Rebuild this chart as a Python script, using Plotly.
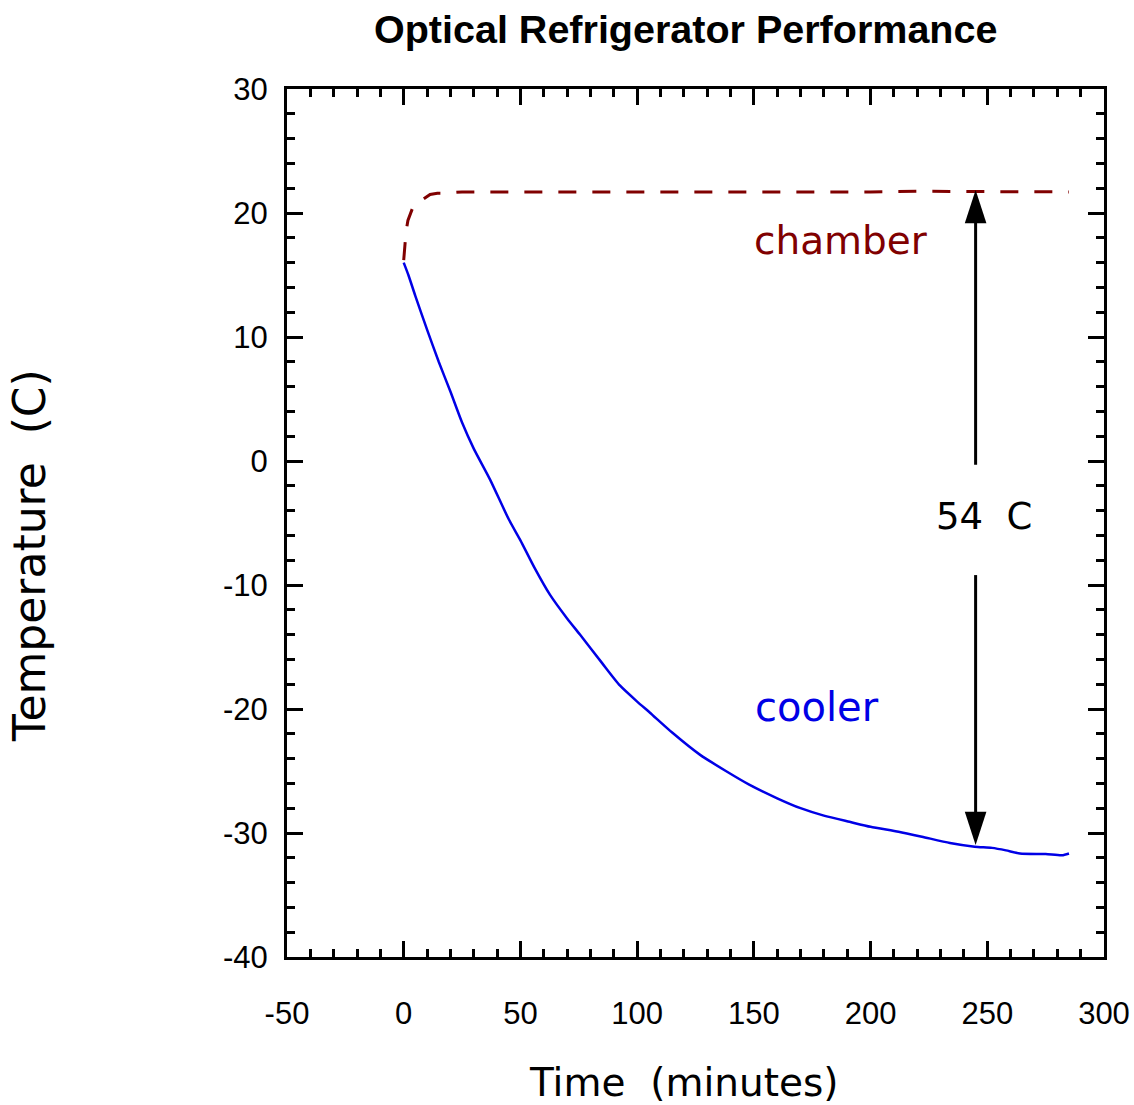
import plotly.graph_objects as go

# ---- data ----
cooler_t = [0, 2, 5, 10, 15, 20, 25, 30, 37, 45, 50, 56, 62.7, 70, 75.5, 85, 92.6, 100, 105.5,
            115, 127, 138, 148, 160, 170, 180, 191, 200, 212, 222, 234, 244.6, 252, 258, 264,
            275, 282, 285]
cooler_T = [16.0, 15.0, 13.3, 10.6, 8.0, 5.6, 3.1, 1.0, -1.5, -4.7, -6.4, -8.6, -10.8, -12.7,
            -14.0, -16.3, -18.1, -19.4, -20.3, -21.9, -23.7, -25.0, -26.1, -27.2, -28.0, -28.6,
            -29.1, -29.5, -29.9, -30.3, -30.8, -31.1, -31.2, -31.4, -31.65, -31.7, -31.8, -31.65]

chamber_t = [0, 0.4, 1.0, 1.8, 4, 7.8, 11.3, 14.4, 18, 25, 40, 60, 80, 100, 120, 140, 160,
             180, 200, 220, 240, 260, 285]
chamber_T = [16.2, 17.4, 18.5, 19.4, 20.5, 21.05, 21.5, 21.6, 21.6, 21.7, 21.7, 21.7, 21.7,
             21.65, 21.7, 21.7, 21.7, 21.7, 21.7, 21.75, 21.75, 21.75, 21.7]

x_ticks = [-50, 0, 50, 100, 150, 200, 250, 300]
y_ticks = [-40, -30, -20, -10, 0, 10, 20, 30]

diff_label = "54&nbsp;&nbsp;C"
arrow_t = 245
arrow_top = 21.85
arrow_bottom = -30.97
gap_top = -0.3
gap_bottom = -9.2

maroon = "#800000"
blue = "#0000e6"
wide_font = "DejaVu Sans, sans-serif"

fig = go.Figure()
fig.add_trace(go.Scatter(x=chamber_t, y=chamber_T, mode="lines",
                         line=dict(color=maroon, width=3, dash="18px,16px"),
                         showlegend=False, hoverinfo="skip"))
fig.add_trace(go.Scatter(x=cooler_t, y=cooler_T, mode="lines",
                         line=dict(color=blue, width=2.5, shape="spline", smoothing=0.6),
                         showlegend=False))

# difference arrow: two shafts + arrow heads
fig.add_trace(go.Scatter(x=[arrow_t, arrow_t, None, arrow_t, arrow_t],
                         y=[gap_top, arrow_top - 1.5, None, gap_bottom, arrow_bottom + 1.5],
                         mode="lines", line=dict(color="black", width=3),
                         showlegend=False, hoverinfo="skip"))
fig.add_trace(go.Scatter(x=[arrow_t, arrow_t], y=[arrow_top, arrow_bottom], mode="markers",
                         marker=dict(symbol="arrow", size=35, angle=[0, 180], color="black",
                                     line=dict(width=0)),
                         showlegend=False, hoverinfo="skip"))

axis_common = dict(
    showgrid=False, zeroline=False, showline=True, linecolor="black", linewidth=3,
    mirror="allticks", ticks="inside", ticklen=16, tickwidth=3, tickcolor="black",
    automargin=False,
    tickfont=dict(family="Liberation Sans, Arial, sans-serif", size=31, color="black"),
)

fig.update_xaxes(range=[-50, 300], tickvals=x_ticks, ticktext=[str(v) for v in x_ticks],
                 minor=dict(dtick=10, tick0=0, ticks="inside", ticklen=8, tickwidth=2.5,
                            tickcolor="black"),
                 ticklabelstandoff=27, **axis_common)
fig.update_yaxes(range=[-40, 30], tickvals=y_ticks, ticktext=[str(v) for v in y_ticks],
                 minor=dict(dtick=2, tick0=0, ticks="inside", ticklen=8, tickwidth=2.5,
                            tickcolor="black"),
                 ticklabelstandoff=10, **axis_common)

anns = [
    dict(text="<b>Optical Refrigerator Performance</b>", xref="paper", yref="paper",
         x=0.488, y=1.0, yshift=60, xanchor="center", yanchor="middle", showarrow=False,
         font=dict(family="Liberation Sans, Arial, sans-serif", size=39.5, color="black")),
    dict(text="Time&nbsp;&nbsp;(minutes)", xref="paper", yref="paper", x=0.486, y=0,
         yshift=-125, xanchor="center", yanchor="middle",
         showarrow=False, font=dict(family=wide_font, size=39, color="black")),
    dict(text="Temperature&nbsp;&nbsp;(C)", xref="paper", yref="paper", x=0, xshift=-257,
         y=0.462, xanchor="center", yanchor="middle",
         textangle=-90, showarrow=False,
         font=dict(family=wide_font, size=44, color="black")),
    dict(text="chamber", x=187.4, y=17.8, showarrow=False,
         font=dict(family=wide_font, size=39, color=maroon)),
    dict(text="cooler", x=177, y=-19.8, showarrow=False,
         font=dict(family=wide_font, size=40, color=blue)),
    dict(text=diff_label, x=arrow_t + 3.5, y=-4.5, showarrow=False,
         font=dict(family=wide_font, size=37, color="black")),
]

fig.update_layout(
    width=1134, height=1105,
    margin=dict(l=287, r=30, t=89, b=148, autoexpand=False),
    plot_bgcolor="white", paper_bgcolor="white",
    annotations=anns,
    showlegend=False,
)

fig.write_html("out.html")
